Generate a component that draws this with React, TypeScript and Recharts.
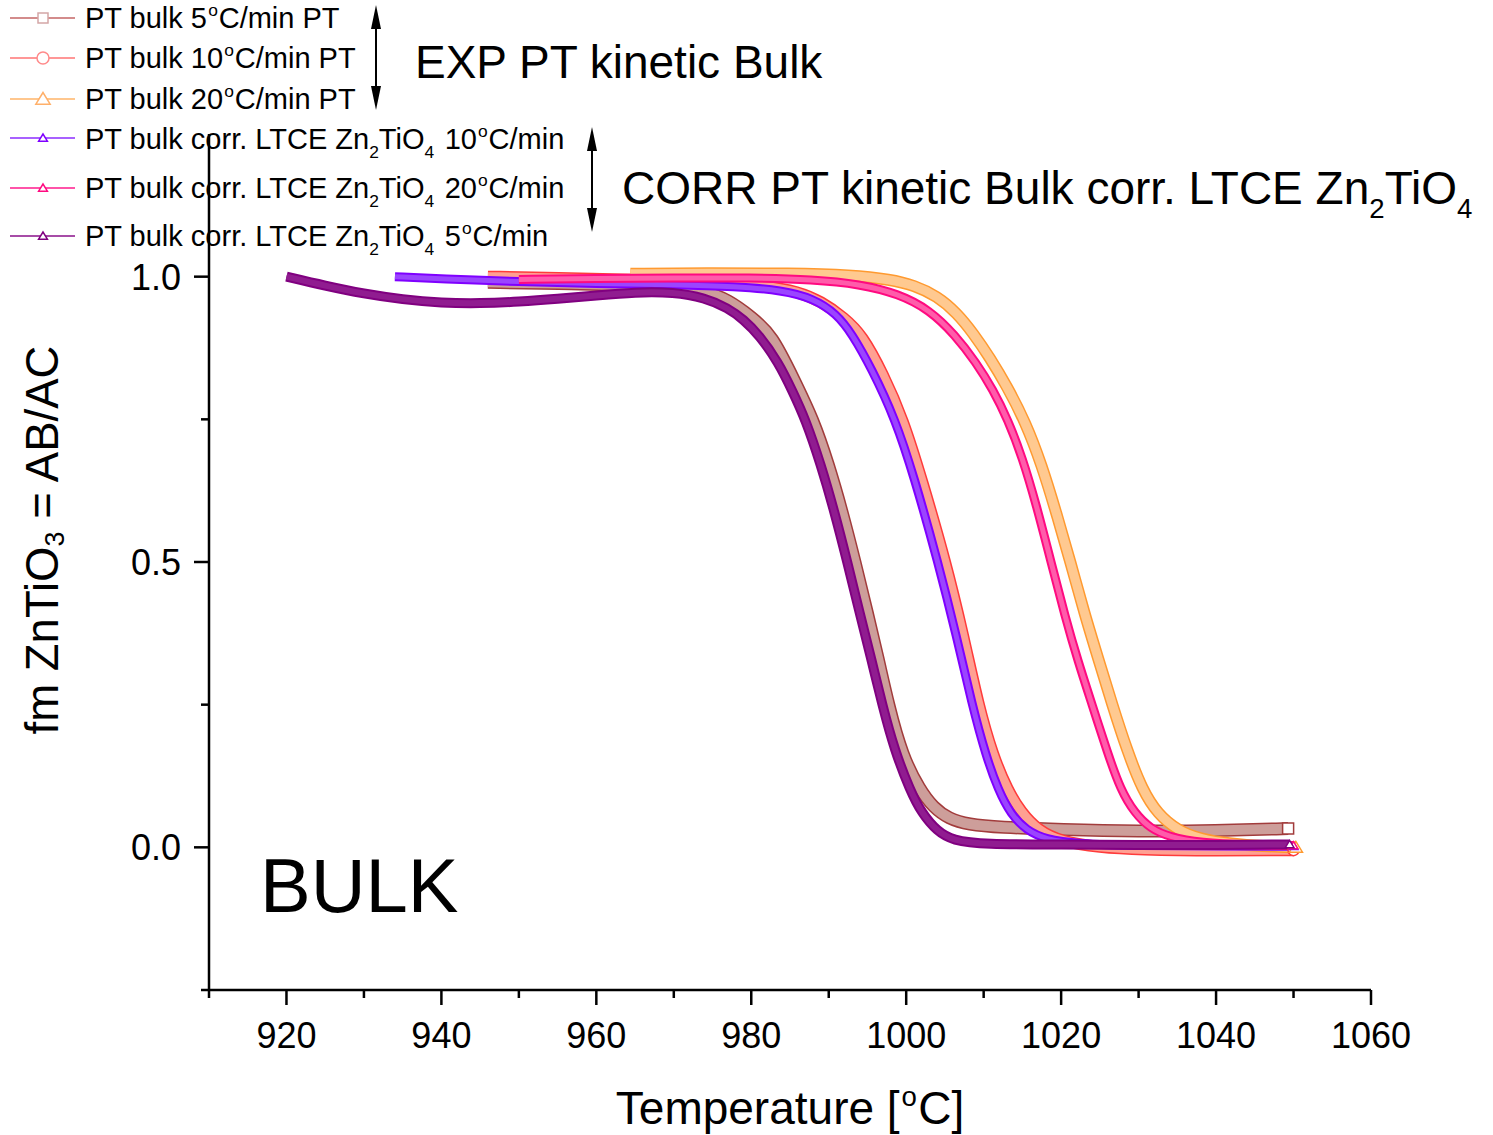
import { Line, LineChart, XAxis, YAxis } from "recharts";

const FONT = '"Liberation Sans", Arial, Helvetica, sans-serif';

const W = 1493;
const H = 1135;
const PLOT_LEFT = 209;
const PLOT_BOTTOM = 990;

const X_TICKS = [910, 920, 930, 940, 950, 960, 970, 980, 990, 1000, 1010, 1020, 1030, 1040, 1050, 1060];
const Y_TICKS = [-0.25, 0, 0.25, 0.5, 0.75, 1.0];
const Y_LABELS: Record<string, string> = { "0": "0.0", "0.5": "0.5", "1": "1.0" };

// [temperature, fm]
const pt5: [number, number][] = [
  [946, 0.99], [955, 0.988], [965, 0.985], [970, 0.983], [974, 0.975], [977, 0.96],
  [980, 0.93], [982.7, 0.898], [985.5, 0.82], [988, 0.75], [990, 0.67], [991.7, 0.59],
  [993.4, 0.5], [995, 0.41], [996.4, 0.33], [997.7, 0.25], [999.5, 0.16], [1001.8, 0.1],
  [1003.5, 0.07], [1005.5, 0.05], [1008, 0.04], [1012, 0.035], [1020, 0.031],
  [1030, 0.028], [1040, 0.029], [1049.3, 0.033],
];
const pt10: [number, number][] = [
  [946, 1.0], [955, 0.998], [965, 0.995], [975, 0.99], [982, 0.984], [986, 0.974],
  [989, 0.957], [992, 0.928], [994.3, 0.898], [997, 0.83], [999.6, 0.75], [1002, 0.645],
  [1005.1, 0.5], [1007.4, 0.37], [1009.3, 0.25], [1011.2, 0.16], [1013.1, 0.1],
  [1014.8, 0.062], [1017, 0.03], [1020, 0.01], [1025, 0.0], [1030, -0.004],
  [1040, -0.006], [1050, -0.005],
];
const pt20: [number, number][] = [
  [964.4, 1.005], [975, 1.006], [985, 1.006], [993, 1.003], [998, 0.995], [1001, 0.985],
  [1004, 0.966], [1006.5, 0.937], [1008.7, 0.9], [1010.8, 0.858], [1013, 0.808],
  [1015.4, 0.745], [1017.5, 0.67], [1019.4, 0.585], [1021.2, 0.5], [1023, 0.41],
  [1024.8, 0.33], [1026.6, 0.25], [1028.5, 0.17], [1030.5, 0.1], [1032.5, 0.058],
  [1035, 0.03], [1038, 0.014], [1042, 0.006], [1046, 0.002], [1050.3, 0.0],
];
const corr10: [number, number][] = [
  [934, 1.0], [940, 0.996], [950, 0.991], [960, 0.988], [970, 0.986], [978, 0.983],
  [984, 0.976], [988, 0.962], [991, 0.935], [993, 0.9], [995.5, 0.84], [998.6, 0.75],
  [1001, 0.65], [1004.1, 0.5], [1006.5, 0.37], [1008.5, 0.25], [1010.3, 0.16],
  [1011.9, 0.1], [1013.5, 0.058], [1015.5, 0.03], [1018, 0.014], [1022, 0.006],
  [1030, 0.003], [1040, 0.002], [1050, 0.002],
];
const corr20: [number, number][] = [
  [950, 0.995], [960, 0.997], [970, 0.998], [980, 0.998], [988, 0.995], [994, 0.987],
  [999, 0.97], [1003, 0.942], [1006.3, 0.898], [1009, 0.85], [1011.2, 0.802], [1013.1, 0.75],
  [1015, 0.683], [1016.8, 0.6], [1018.7, 0.5], [1020.5, 0.405], [1022.2, 0.325], [1024, 0.25],
  [1026, 0.165], [1027.7, 0.1], [1029.5, 0.06], [1031.5, 0.033], [1034, 0.018],
  [1038, 0.008], [1044, 0.004], [1050, 0.003],
];
const corr5: [number, number][] = [
  [920, 1.0], [925, 0.984], [930, 0.97], [935, 0.96], [940, 0.954], [945, 0.953],
  [950, 0.956], [955, 0.961], [960, 0.967], [965, 0.973], [970, 0.973], [974, 0.963],
  [977, 0.945], [979, 0.925], [981, 0.898], [983.5, 0.85], [985.3, 0.8], [987, 0.75],
  [989, 0.67], [990.7, 0.59], [992.4, 0.5], [994, 0.41], [995.5, 0.33], [996.9, 0.25],
  [998.5, 0.17], [1000.5, 0.1], [1002, 0.06], [1004, 0.028], [1006, 0.012], [1010, 0.005],
  [1020, 0.005], [1030, 0.004], [1040, 0.004], [1049.5, 0.005],
];

type Marker = "square" | "circle" | "triangle";

const SERIES = [
  { key: "pt5", data: pt5, outer: "#A23C3C", inner: "#CD9E9A", wo: 13, wi: 10, marker: "square" as Marker, ms: 11 },
  { key: "pt10", data: pt10, outer: "#FF3B3B", inner: "#FFA092", wo: 12, wi: 9, marker: "circle" as Marker, ms: 11 },
  { key: "pt20", data: pt20, outer: "#FF9A30", inner: "#FFC990", wo: 12, wi: 9, marker: "triangle" as Marker, ms: 12 },
  { key: "corr10", data: corr10, outer: "#7F00FF", inner: "#9A45FF", wo: 9, wi: 5, marker: "triangle" as Marker, ms: 8 },
  { key: "corr20", data: corr20, outer: "#FF0A80", inner: "#FF5CAA", wo: 9, wi: 5, marker: "triangle" as Marker, ms: 8 },
  { key: "corr5", data: corr5, outer: "#800080", inner: "#901C90", wo: 10, wi: 6, marker: "triangle" as Marker, ms: 8 },
];

const LEGEND = [
  { line: "#C46666", mark: "#D4A6A6", marker: "square" as Marker, ms: 10, y: 18 },
  { line: "#FF7575", mark: "#FF8A8A", marker: "circle" as Marker, ms: 12, y: 58 },
  { line: "#FFB468", mark: "#FFB06A", marker: "triangle" as Marker, ms: 13, y: 99 },
  { line: "#8B2CFF", mark: "#7F00FF", marker: "triangle" as Marker, ms: 8, y: 138 },
  { line: "#FF1A8C", mark: "#FF0A80", marker: "triangle" as Marker, ms: 8, y: 188 },
  { line: "#8A108A", mark: "#800080", marker: "triangle" as Marker, ms: 8, y: 236 },
];

function shape(kind: Marker, cx: number, cy: number, s: number, color: string, k?: string) {
  const h = s / 2;
  if (kind === "square")
    return <rect key={k} x={cx - h} y={cy - h} width={s} height={s} fill="#fff" stroke={color} strokeWidth={1.5} />;
  if (kind === "circle")
    return <circle key={k} cx={cx} cy={cy} r={h} fill="#fff" stroke={color} strokeWidth={1.5} />;
  return (
    <polygon
      key={k}
      points={`${cx},${cy - h} ${cx - h * 1.1},${cy + h * 0.8} ${cx + h * 1.1},${cy + h * 0.8}`}
      fill="#fff"
      stroke={color}
      strokeWidth={1.5}
    />
  );
}

function XTick(props: any) {
  const { x, payload } = props;
  const v = payload.value as number;
  const major = v % 20 === 0;
  return (
    <g>
      <line x1={x} x2={x} y1={PLOT_BOTTOM} y2={PLOT_BOTTOM + (major ? 15 : 8)} stroke="#000" strokeWidth={2.5} />
      {major && (
        <text x={x} y={1048} textAnchor="middle" fontSize={36} fontFamily={FONT} fill="#000">
          {v}
        </text>
      )}
    </g>
  );
}

function YTick(props: any) {
  const { y, payload } = props;
  const label = Y_LABELS[String(payload.value)];
  return (
    <g>
      <line x1={PLOT_LEFT} x2={PLOT_LEFT - (label ? 15 : 8)} y1={y} y2={y} stroke="#000" strokeWidth={2.5} />
      {label && (
        <text x={181} y={y + 13} textAnchor="end" fontSize={36} fontFamily={FONT} fill="#000">
          {label}
        </text>
      )}
    </g>
  );
}

function Arrow({ x, y1, y2 }: { x: number; y1: number; y2: number }) {
  return (
    <g>
      <line x1={x} x2={x} y1={y1 + 10} y2={y2 - 10} stroke="#000" strokeWidth={2} />
      <polygon points={`${x},${y1} ${x - 5},${y1 + 24} ${x + 5},${y1 + 24}`} fill="#000" />
      <polygon points={`${x},${y2} ${x - 5},${y2 - 24} ${x + 5},${y2 - 24}`} fill="#000" />
    </g>
  );
}

function Sup({ size }: { size: number }) {
  return (
    <>
      <tspan fontSize={size * 0.6} dx={size * 0.04} dy={-size * 0.4}>o</tspan>
      <tspan dx={size * 0.03} dy={size * 0.4}>C</tspan>
    </>
  );
}

function Zn2TiO4({ size }: { size: number }) {
  return (
    <>
      Zn
      <tspan fontSize={size * 0.6} dy={size * 0.3}>2</tspan>
      <tspan dy={-size * 0.3}>TiO</tspan>
      <tspan fontSize={size * 0.6} dy={size * 0.3}>4</tspan>
      <tspan dy={-size * 0.3}>{"\u200A"}</tspan>
    </>
  );
}

function Overlay() {
  const fs = 29;
  return (
    <svg width={W} height={H} style={{ position: "absolute", left: 0, top: 0, pointerEvents: "none" }}>
      {LEGEND.map((l, i) => (
        <g key={i}>
          <line x1={10} x2={75} y1={l.y} y2={l.y} stroke={l.line} strokeWidth={1.5} />
          {shape(l.marker, 43, l.y, l.ms, l.mark)}
        </g>
      ))}
      <g fontFamily={FONT} fontSize={fs} fill="#000">
        <text x={85} y={28}>PT bulk 5<Sup size={fs} />/min PT</text>
        <text x={85} y={68}>PT bulk 10<Sup size={fs} />/min PT</text>
        <text x={85} y={109}>PT bulk 20<Sup size={fs} />/min PT</text>
        <text x={85} y={149}>PT bulk corr. LTCE <Zn2TiO4 size={fs} /> 10<Sup size={fs} />/min</text>
        <text x={85} y={198}>PT bulk corr. LTCE <Zn2TiO4 size={fs} /> 20<Sup size={fs} />/min</text>
        <text x={85} y={246}>PT bulk corr. LTCE <Zn2TiO4 size={fs} /> 5<Sup size={fs} />/min</text>
      </g>
      <Arrow x={376} y1={5} y2={110} />
      <Arrow x={592} y1={127} y2={232} />
      <g fontFamily={FONT} fontSize={46} fill="#000">
        <text x={415} y={78}>EXP PT kinetic Bulk</text>
        <text x={622} y={204}>CORR PT kinetic Bulk corr. LTCE <Zn2TiO4 size={46} /></text>
      </g>
      <text x={260} y={912} fontFamily={FONT} fontSize={76} fill="#000">BULK</text>
      <text x={790} y={1124} textAnchor="middle" fontFamily={FONT} fontSize={46} fill="#000">
        Temperature [<Sup size={46} />]
      </text>
      <text
        x={42}
        y={540}
        transform="rotate(-90 42 540)"
        textAnchor="middle"
        dominantBaseline="central"
        fontFamily={FONT}
        fontSize={45.5}
        fill="#000"
      >
        fm ZnTiO
        <tspan fontSize={27} dy={13}>3</tspan>
        <tspan dy={-13}> = AB/AC</tspan>
      </text>
    </svg>
  );
}

export default function App() {
  return (
    <div style={{ position: "absolute", left: 0, top: 0, width: W, height: H, background: "#fff" }}>
      <LineChart width={W} height={H} margin={{ top: 134, right: 122, left: 109, bottom: 45 }}>
        <XAxis
          type="number"
          dataKey="t"
          domain={[910, 1060]}
          ticks={X_TICKS}
          interval={0}
          height={100}
          allowDataOverflow
          axisLine={{ stroke: "#000", strokeWidth: 2.5 }}
          tickLine={false}
          tick={XTick}
        />
        <YAxis
          type="number"
          dataKey="v"
          domain={[-0.25, 1.25]}
          ticks={Y_TICKS}
          interval={0}
          width={100}
          allowDataOverflow
          axisLine={{ stroke: "#000", strokeWidth: 2.5 }}
          tickLine={false}
          tick={YTick}
        />
        {SERIES.flatMap((s) => {
          const data = s.data.map(([t, v]) => ({ t, v }));
          const last = data.length - 1;
          return [
            <Line
              key={s.key + "-o"}
              data={data}
              dataKey="v"
              type="basis"
              stroke={s.outer}
              strokeWidth={s.wo}
              strokeLinejoin="round"
              dot={false}
              activeDot={false}
              isAnimationActive={false}
              legendType="none"
            />,
            <Line
              key={s.key + "-i"}
              data={data}
              dataKey="v"
              type="basis"
              stroke={s.inner}
              strokeWidth={s.wi}
              strokeLinejoin="round"
              dot={(p: any) =>
                p.index === last ? shape(s.marker, p.cx, p.cy, s.ms, s.outer, `d-${s.key}`) : <g key={`d-${s.key}-${p.index}`} />
              }
              activeDot={false}
              isAnimationActive={false}
              legendType="none"
            />,
          ];
        })}
      </LineChart>
      <Overlay />
    </div>
  );
}
